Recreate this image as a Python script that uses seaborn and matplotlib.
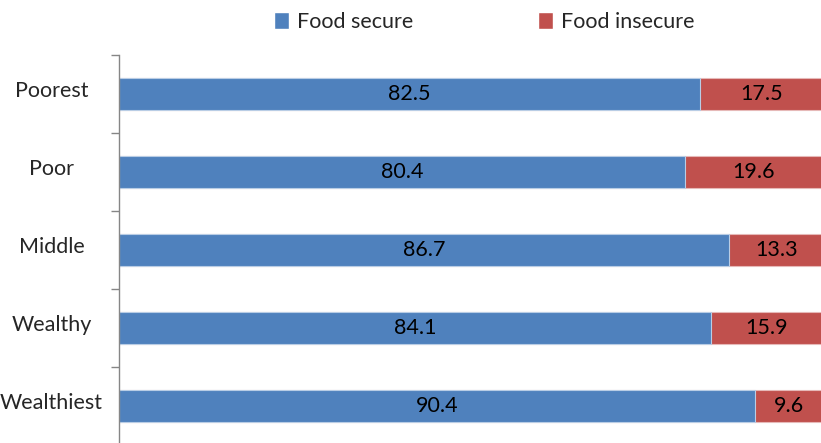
import matplotlib
matplotlib.use("Agg")
import matplotlib.pyplot as plt
import matplotlib.transforms as mtransforms
import seaborn as sns
import pandas as pd
from matplotlib.patches import Patch

categories = ["Poorest", "Poor", "Middle", "Wealthy", "Wealthiest"]
food_secure = [82.5, 80.4, 86.7, 84.1, 90.4]
food_insecure = [17.5, 19.6, 13.3, 15.9, 9.6]
series_names = ["Food secure", "Food insecure"]

BLUE = "#4F81BD"
RED = "#C0504D"
FS = 15.5

sns.set_style("white")
plt.rcParams["font.family"] = ["Lato", "DejaVu Sans"]

df = pd.DataFrame({"cat": categories, "secure": food_secure, "insecure": food_insecure})
df["total"] = df["secure"] + df["insecure"]

fig = plt.figure(figsize=(8.21, 4.43), dpi=100)
ax = fig.add_axes([119 / 821, -2 / 443, 704 / 821, 390 / 443])

sns.barplot(data=df, x="total", y="cat", orient="h", color=RED, saturation=1,
            width=0.41, edgecolor="#E6B9B8", linewidth=0.8, ax=ax)
sns.barplot(data=df, x="secure", y="cat", orient="h", color=BLUE, saturation=1,
            width=0.41, edgecolor="#B9CDE5", linewidth=0.8, ax=ax)

for i, (s, ins) in enumerate(zip(food_secure, food_insecure)):
    ax.text(s / 2, i, f"{s:.1f}", ha="center", va="center", fontsize=FS, color="black")
    ax.text(s + ins / 2, i, f"{ins:.1f}", ha="center", va="center", fontsize=FS, color="black")

ax.set_xlim(0, 100)
ax.set_ylim(len(categories) - 0.5, -0.5)
ax.set_xlabel("")
ax.set_ylabel("")
ax.set_xticks([])

# major ticks at boundaries, labels at centres (minor)
ax.set_yticks([i - 0.5 for i in range(len(categories) + 1)])
ax.set_yticklabels([])
ax.set_yticks(range(len(categories)), minor=True)
ax.set_yticklabels(categories, minor=True, ha="center", fontsize=FS)
ax.tick_params(axis="y", which="major", length=6, width=1, color="#868686", left=True)
ax.tick_params(axis="y", which="minor", length=0, pad=48.5)
shift = mtransforms.ScaledTranslation(0, 5 / 100, fig.dpi_scale_trans)
for lab in ax.get_yticklabels(minor=True):
    lab.set_transform(lab.get_transform() + shift)

for side in ["top", "right", "bottom"]:
    ax.spines[side].set_visible(False)
ax.spines["left"].set_color("#868686")
ax.spines["left"].set_linewidth(1)

handles = [Patch(facecolor=BLUE, label=series_names[0]),
           Patch(facecolor=RED, label=series_names[1])]
fig.legend(handles=handles, loc="center", bbox_to_anchor=(484 / 821, 1 - 22 / 443),
           ncol=2, frameon=False, fontsize=FS, handlelength=0.72, handleheight=0.8,
           handletextpad=0.35, columnspacing=5.8)

fig.savefig("out.png", dpi=100)
